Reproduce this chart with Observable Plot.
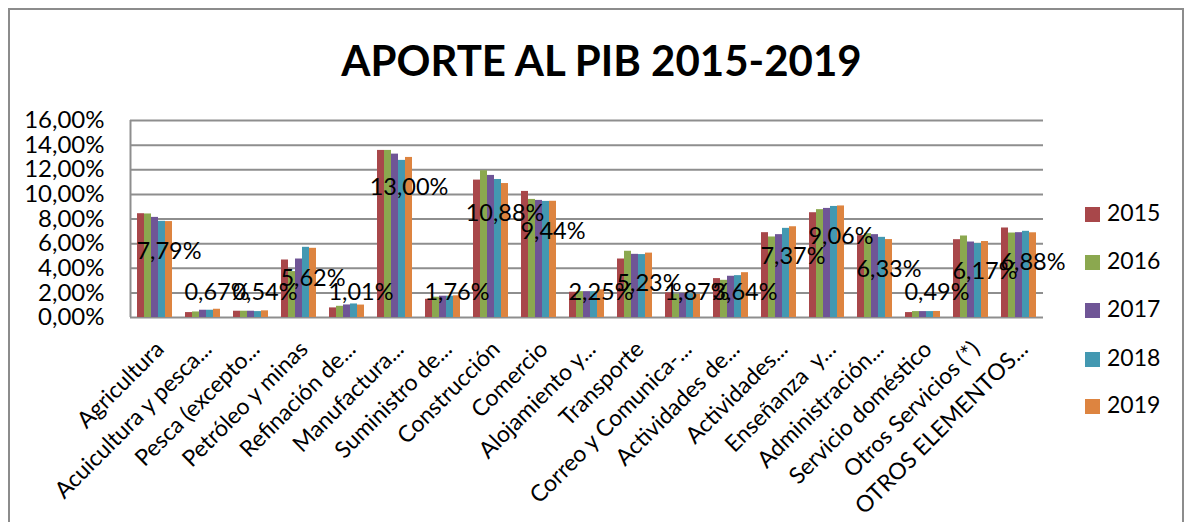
<!DOCTYPE html>
<html>
<head>
<meta charset="utf-8">
<script src="https://cdn.jsdelivr.net/npm/d3@7"></script>
<script src="https://cdn.jsdelivr.net/npm/@observablehq/plot@0.6"></script>
<style>
  html, body { margin: 0; padding: 0; background: #fff; }
  body { width: 1187px; height: 522px; position: relative; overflow: hidden; font-family: Lato, "DejaVu Sans", sans-serif; }
  #frame { position: absolute; left: 8px; top: 8px; width: 1176px; height: 540px; border: 2px solid #8c8c8c; box-sizing: border-box; }
  #title { position: absolute; left: 8px; top: 35px; width: 1187px; text-align: center; font-weight: 700; font-size: 42px; line-height: 50px; color: #000; }
  .layer { position: absolute; left: 0; top: 0; }
  #legend { position: absolute; left: 1085px; top: 0; }
  .item { position: absolute; left: 0; white-space: nowrap; font-size: 23px; line-height: 26px; color: #000; }
  .sw { display: inline-block; width: 15px; height: 15px; margin-right: 7px; vertical-align: -1px; }
</style>
</head>
<body>
<div id="frame"></div>
<div id="title">APORTE AL PIB 2015-2019</div>
<div id="bg" class="layer"></div>
<div id="fg" class="layer"></div>
<div id="legend"></div>
<script>
const categories = ["Agricultura", "Acuicultura y pesca...", "Pesca (excepto...", "Petróleo y minas", "Refinación de...", "Manufactura...", "Suministro de...", "Construcción", "Comercio", "Alojamiento y...", "Transporte", "Correo y Comunica-...", "Actividades de...", "Actividades...", "Enseñanza  y...", "Administración...", "Servicio doméstico", "Otros Servicios (*)", "OTROS ELEMENTOS..."];
const years = ["2015", "2016", "2017", "2018", "2019"];
const v2015 = [8.43, 0.40, 0.51, 4.67, 0.78, 13.57, 1.48, 11.16, 10.24, 2.05, 4.75, 2.00, 3.16, 6.89, 8.51, 6.65, 0.40, 6.32, 7.27];
const v2016 = [8.41, 0.45, 0.51, 3.73, 0.91, 13.57, 1.65, 11.92, 9.59, 2.10, 5.38, 1.89, 3.02, 6.54, 8.76, 6.81, 0.48, 6.62, 6.86];
const v2017 = [8.13, 0.59, 0.51, 4.75, 1.02, 13.27, 1.73, 11.54, 9.51, 2.10, 5.13, 1.95, 3.35, 6.73, 8.86, 6.73, 0.48, 6.13, 6.89];
const v2018 = [7.81, 0.59, 0.48, 5.70, 1.10, 12.76, 1.73, 11.21, 9.43, 2.10, 5.11, 1.92, 3.40, 7.24, 9.02, 6.51, 0.48, 6.00, 7.00];
const v2019 = [7.79, 0.67, 0.54, 5.62, 1.01, 13.00, 1.76, 10.88, 9.44, 2.25, 5.23, 1.87, 3.64, 7.37, 9.06, 6.33, 0.49, 6.17, 6.88];
const yTicks = [0, 2, 4, 6, 8, 10, 12, 14, 16];
const colors = ["#A8474A", "#8BA84F", "#6F5596", "#4398B1", "#DD8440"];

const series = [v2015, v2016, v2017, v2018, v2019];
const rows = [];
categories.forEach((c, i) => years.forEach((y, j) => rows.push({cat: c, year: y, value: series[j][i]})));
const labelRows = categories.map((c, i) => ({cat: c, year: "2019", value: v2019[i]}));
const pct = d => d.toFixed(2).replace(".", ",") + "%";

const W = 1187, H = 522;
const margins = {marginTop: 120, marginBottom: 205, marginLeft: 130, marginRight: 144};

const bg = Plot.plot({
  width: W, height: H, ...margins,
  style: {fontFamily: "Lato, sans-serif", fontSize: "24px", color: "#000", background: "transparent"},
  x: {domain: [0, 1], axis: null},
  y: {domain: [0, 16], ticks: yTicks, tickFormat: pct, tickSize: 0, tickPadding: 26, label: null},
  marks: [
    Plot.ruleY(yTicks, {stroke: "#8e8e8e", strokeWidth: 2}),
    Plot.ruleX([0], {stroke: "#8e8e8e", strokeWidth: 2})
  ]
});
document.getElementById("bg").appendChild(bg);

const fxOpts = {tickRotate: -45, tickSize: 0, tickPadding: 28, label: null};
const hasAxisMark = typeof Plot.axisFx === "function";
const fg = Plot.plot({
  width: W, height: H, ...margins,
  style: {fontFamily: "Lato, sans-serif", fontSize: "23px", color: "#000", background: "transparent"},
  fx: hasAxisMark
    ? {domain: categories, paddingInner: 0.19, paddingOuter: 0.1, label: null}
    : {domain: categories, paddingInner: 0.19, paddingOuter: 0.1, ...fxOpts},
  x: {domain: years, padding: 0, axis: null},
  y: {domain: [0, 16], axis: null},
  color: {domain: years, range: colors},
  marks: [
    Plot.barY(rows, {fx: "cat", x: "year", y: "value", fill: "year", insetLeft: 0, insetRight: 0}),
    Plot.text(labelRows, {fx: "cat", x: "year", y: d => Math.max(d.value - 2.45, 2.0), text: d => pct(d.value), fontSize: 23.5, fill: "#000"}),
    ...(hasAxisMark ? [Plot.axisFx({anchor: "bottom", ...fxOpts, dx: 5, fontSize: 23})] : [])
  ]
});
document.getElementById("fg").appendChild(fg);

const legend = document.getElementById("legend");
const legendTops = [199, 247, 295, 344, 391];
years.forEach((y, j) => {
  const div = document.createElement("div");
  div.className = "item";
  div.style.top = legendTops[j] + "px";
  div.innerHTML = `<span class="sw" style="background:${colors[j]}"></span>${y}`;
  legend.appendChild(div);
});
</script>
</body>
</html>
